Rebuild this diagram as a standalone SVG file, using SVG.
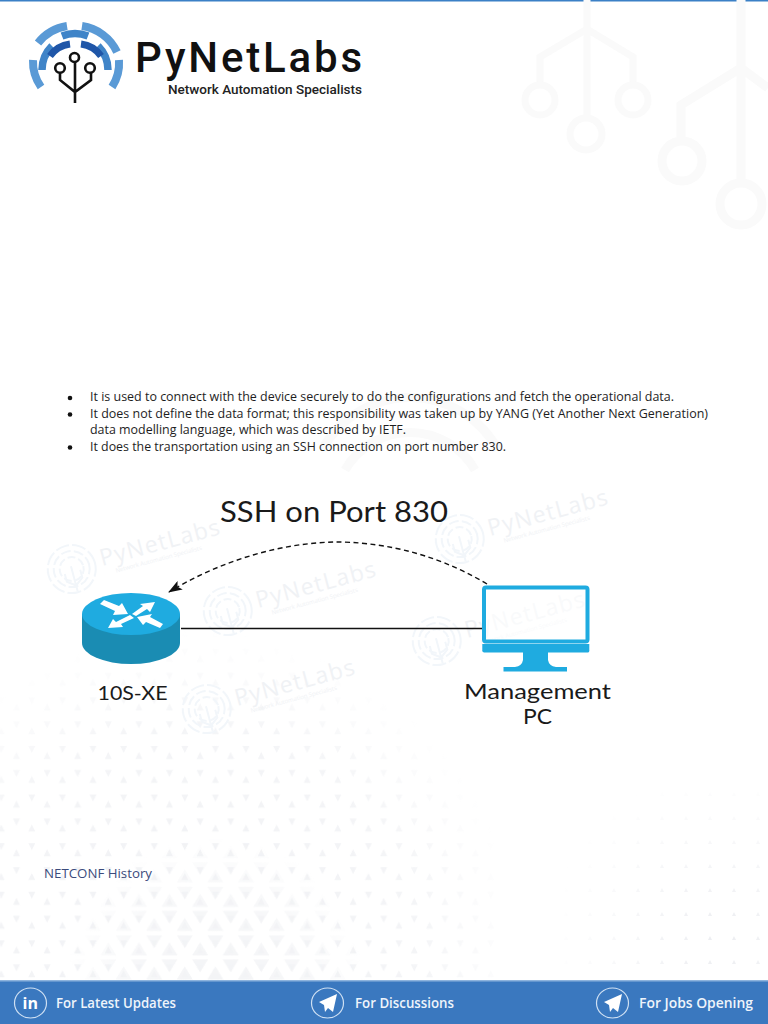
<svg xmlns="http://www.w3.org/2000/svg" width="768" height="1024" viewBox="0 0 768 1024">
<style>
.body{font-family:"Open Sans","Liberation Sans",sans-serif;font-size:12.5px;fill:#1e1e1e}
.pop{font-family:"Lato","Liberation Sans",sans-serif;fill:#1a1a1a}
.foot{font-family:"Open Sans","Liberation Sans",sans-serif;font-size:15px;font-weight:600;fill:#eef4fb}
.arc{fill:none}
.wm{fill:none;stroke:#f2f6fa;stroke-width:2}
.wmt{font-family:"Open Sans","Liberation Sans",sans-serif;fill:#f0f2f5}
.tree{fill:none;stroke:#fafafa}
</style>
<defs>
<marker id="ah" markerWidth="14" markerHeight="10" refX="13" refY="5" orient="auto" markerUnits="userSpaceOnUse"><path d="M0,0 L14,5 L0,10 L3,5 Z" fill="#111"/></marker>
<pattern id="tri" width="30.600" height="48.600" patternUnits="userSpaceOnUse" x="-6.450" y="739">
<path d="M22.950,13 l3.500,7 h-7 Z M4.200,7 h7 l-3.500,7 Z M7.650,37 l3.500,7 h-7 Z M19.450,31 h7 l-3.500,7 Z" fill="#f0f1f4"/>
</pattern>
<pattern id="triB" width="30.600" height="48.600" patternUnits="userSpaceOnUse" x="-6.450" y="739">
<path d="M22.950,9 l8,13 h-16 Z M-0.350,2 h16 l-8,13 Z M7.650,33 l8,13 h-16 Z M14.950,26 h16 l-8,13 Z" fill="#f3f4f6"/>
</pattern>
<pattern id="dots" width="24" height="24" patternUnits="userSpaceOnUse" x="4" y="830">
<path d="M10,10 l2,4 h-4 Z" fill="#ecedf1"/>
</pattern>
<radialGradient id="gL" gradientUnits="userSpaceOnUse" cx="190" cy="960" r="330">
<stop offset="0" stop-color="#fff"/><stop offset=".7" stop-color="#bbb"/><stop offset="1" stop-color="#000"/></radialGradient>
<radialGradient id="gB" gradientUnits="userSpaceOnUse" cx="215" cy="985" r="150">
<stop offset="0" stop-color="#fff"/><stop offset=".6" stop-color="#aaa"/><stop offset="1" stop-color="#000"/></radialGradient>
<radialGradient id="gR" gradientUnits="userSpaceOnUse" cx="720" cy="940" r="170">
<stop offset="0" stop-color="#fff"/><stop offset="1" stop-color="#000"/></radialGradient>
<mask id="mL"><rect x="0" y="600" width="500" height="380" fill="url(#gL)"/></mask>
<mask id="mB"><rect x="0" y="820" width="500" height="160" fill="url(#gB)"/></mask>
<mask id="mR"><rect x="540" y="780" width="228" height="200" fill="url(#gR)"/></mask>
<g id="wm">
<circle cx="0" cy="-1" r="24" class="wm" stroke-dasharray="14 3"/>
<circle cx="0" cy="-1" r="18" class="wm" stroke-dasharray="10 3"/>
<circle cx="0" cy="-1" r="12" class="wm" stroke-dasharray="8 3"/>
<path d="M0,-4 V22 M-8,2 V10 L0,16 L8,10 V2" class="wm"/>
<text x="30" y="4" class="wmt" font-size="23" letter-spacing="1.200">PyNetLabs</text>
<text x="42" y="14" class="wmt" font-size="6">Network Automation Specialists</text>
</g>
</defs>
<rect width="768" height="1024" fill="#fff"/>
<rect x="0" y="0" width="768" height="1.500" fill="#3b80c6"/>

<g id="background-trees">
<g class="tree" stroke-width="7"><path d="M587,0 V118 M540,84 V57 L587,29 L633,57 V84"/><circle cx="540" cy="100" r="15"/><circle cx="633" cy="100" r="15"/><circle cx="586" cy="134" r="16"/></g>
<g class="tree" stroke-width="9"><path d="M741,0 V183 M681,138 V105 L741,68 L768,88"/><circle cx="682" cy="161" r="20"/><circle cx="741" cy="204" r="21"/></g>
</g>

<g id="background-pattern">
<rect x="0" y="600" width="500" height="380" fill="url(#tri)" mask="url(#mL)"/>
<rect x="0" y="820" width="500" height="160" fill="url(#triB)" mask="url(#mB)"/>
<rect x="540" y="780" width="228" height="200" fill="url(#dots)" mask="url(#mR)"/>
<g fill="none" stroke="#fafafa" stroke-width="9"><path d="M345,470 A75,75 0 0 1 475,470"/><path d="M322,450 A100,100 0 0 1 498,450"/></g>
</g>

<g id="watermarks">
<use href="#wm" transform="translate(72,570) rotate(-15)"/>
<use href="#wm" transform="translate(228,612) rotate(-15)"/>
<use href="#wm" transform="translate(207,710) rotate(-15)"/>
<use href="#wm" transform="translate(460,540) rotate(-15)"/>
<use href="#wm" transform="translate(437,642) rotate(-15)"/>
</g>

<g id="logo">
<g class="arc" stroke="#5a9ad6" stroke-width="8">
<path d="M33,60 A44,44 0 0 0 41,87"/><path d="M38,43 A46,46 0 0 1 67,26"/><path d="M82,26 A46,46 0 0 1 117,52"/><path d="M119,60 A44,44 0 0 1 112,87"/>
</g>
<g class="arc" stroke="#3f84c8" stroke-width="7.500">
<path d="M62,36 A36,36 0 0 1 88,36"/><path d="M42,70 A34,34 0 0 1 52,46"/><path d="M98,46 A34,34 0 0 1 108,70"/>
</g>
<g class="arc" stroke="#1f56a8" stroke-width="7">
<path d="M50,56 A29,29 0 0 1 70,44"/><path d="M81,44 A29,29 0 0 1 101,56"/>
</g>
<g fill="#fff" stroke="#111" stroke-width="2.600">
<path d="M75,62 V103 M60,73 V80 L75,92 L91,80 V73" fill="none"/>
<circle cx="74.500" cy="57.500" r="4.500"/><circle cx="60" cy="68" r="4.800"/><circle cx="90" cy="68" r="4.800"/>
</g>
<text x="135" y="72" font-family="Roboto,'Liberation Sans',sans-serif" font-size="42" font-weight="500" fill="#111" textLength="227" lengthAdjust="spacing">PyNetLabs</text>
<text x="168" y="94" font-family="Roboto,'Liberation Sans',sans-serif" font-size="12" font-weight="500" fill="#222" textLength="194" lengthAdjust="spacingAndGlyphs">Network Automation Specialists</text>
</g>

<g id="bullets">
<g fill="#111"><circle cx="70" cy="398" r="2.300"/><circle cx="70" cy="414.500" r="2.300"/><circle cx="70" cy="447.500" r="2.300"/></g>
<text class="body" x="90" y="401" textLength="584" lengthAdjust="spacingAndGlyphs">It is used to connect with the device securely to do the configurations and fetch the operational data.</text>
<text class="body" x="90" y="417.500" textLength="618" lengthAdjust="spacingAndGlyphs">It does not define the data format; this responsibility was taken up by YANG (Yet Another Next Generation)</text>
<text class="body" x="90" y="434" textLength="316" lengthAdjust="spacingAndGlyphs">data modelling language, which was described by IETF.</text>
<text class="body" x="90" y="451" textLength="416" lengthAdjust="spacingAndGlyphs">It does the transportation using an SSH connection on port number 830.</text>
</g>

<text id="title" class="pop" x="220" y="522" font-size="29" textLength="228" lengthAdjust="spacingAndGlyphs">SSH on Port 830</text>

<g id="connectors">
<path d="M181,628.500 H483" fill="none" stroke="#111" stroke-width="1.300"/>
<path d="M487,584 C430,550 375,542 335,542 C280,543 220,561 169,592" fill="none" stroke="#111" stroke-width="1.400" stroke-dasharray="5 3.500" marker-end="url(#ah)"/>
</g>

<g id="router">
<path d="M82,614 V643 A49,21 0 0 0 180,643 V614 Z" fill="#1a8cb3"/>
<ellipse cx="131" cy="614" rx="49" ry="21" fill="#1fabe0"/>
<g fill="#fff">
<path d="M100,604 L104,600 L119,606 L122,603 L128,614 L113,615 L115,611 Z"/>
<path d="M155,602 L150,612 L147,609 L136,616 L132,614 L143,606 L140,604 Z"/>
<path d="M108,628 L113,619 L116,622 L130,615 L134,618 L121,624 L123,627 Z"/>
<path d="M137,617 L152,614 L150,617 L163,624 L160,628 L146,622 L143,625 Z"/>
</g>
<text class="pop" x="97.500" y="700" font-size="20" textLength="70" lengthAdjust="spacingAndGlyphs">10S-XE</text>
</g>

<g id="management-pc">
<rect x="484" y="587.500" width="103.500" height="54" rx="2" fill="#fff" fill-opacity=".6" stroke="#1fabe0" stroke-width="4"/>
<path d="M482.300,644 H589.300 V650 A2,2 0 0 1 587,652.500 H484.500 A2,2 0 0 1 482.300,650 Z" fill="#1fabe0"/>
<path d="M523,652 H548 V660 Q549,666 556,667 H567 V671.500 H503.500 V667 H515 Q522,666 523,660 Z" fill="#1fabe0"/>
<text class="pop" x="464" y="699" font-size="21" textLength="147" lengthAdjust="spacingAndGlyphs">Management</text>
<text class="pop" x="523" y="724" font-size="21" textLength="29" lengthAdjust="spacingAndGlyphs">PC</text>
</g>

<text id="history" x="44" y="878" font-family="'Open Sans','Liberation Sans',sans-serif" font-size="12.500" fill="#3b4b7c" textLength="108" lengthAdjust="spacingAndGlyphs">NETCONF History</text>

<g id="footer">
<rect x="0" y="980" width="768" height="44" fill="#3a78bf"/>
<rect x="0" y="980" width="768" height="1.500" fill="#8db3dd"/>
<g fill="none" stroke="#cfe0f3" stroke-width="1.200"><ellipse cx="30.500" cy="1003" rx="16" ry="15"/><ellipse cx="327.500" cy="1003" rx="16" ry="15"/><ellipse cx="612.500" cy="1003" rx="16" ry="15"/></g>
<text x="22.500" y="1009" font-family="'Open Sans','Liberation Sans',sans-serif" font-size="16" font-weight="700" fill="#fff">in</text>
<path d="M319,1002 L337,994 L333,1012 L328,1008 L325,1012 L324,1005 Z" fill="#fff"/>
<path d="M604,1002 L622,994 L618,1012 L613,1008 L610,1012 L609,1005 Z" fill="#fff"/>
<text class="foot" x="56" y="1008" textLength="120" lengthAdjust="spacingAndGlyphs">For Latest Updates</text>
<text class="foot" x="355" y="1008" textLength="99" lengthAdjust="spacingAndGlyphs">For Discussions</text>
<text class="foot" x="639" y="1008" textLength="114" lengthAdjust="spacingAndGlyphs">For Jobs Opening</text>
</g>
</svg>
